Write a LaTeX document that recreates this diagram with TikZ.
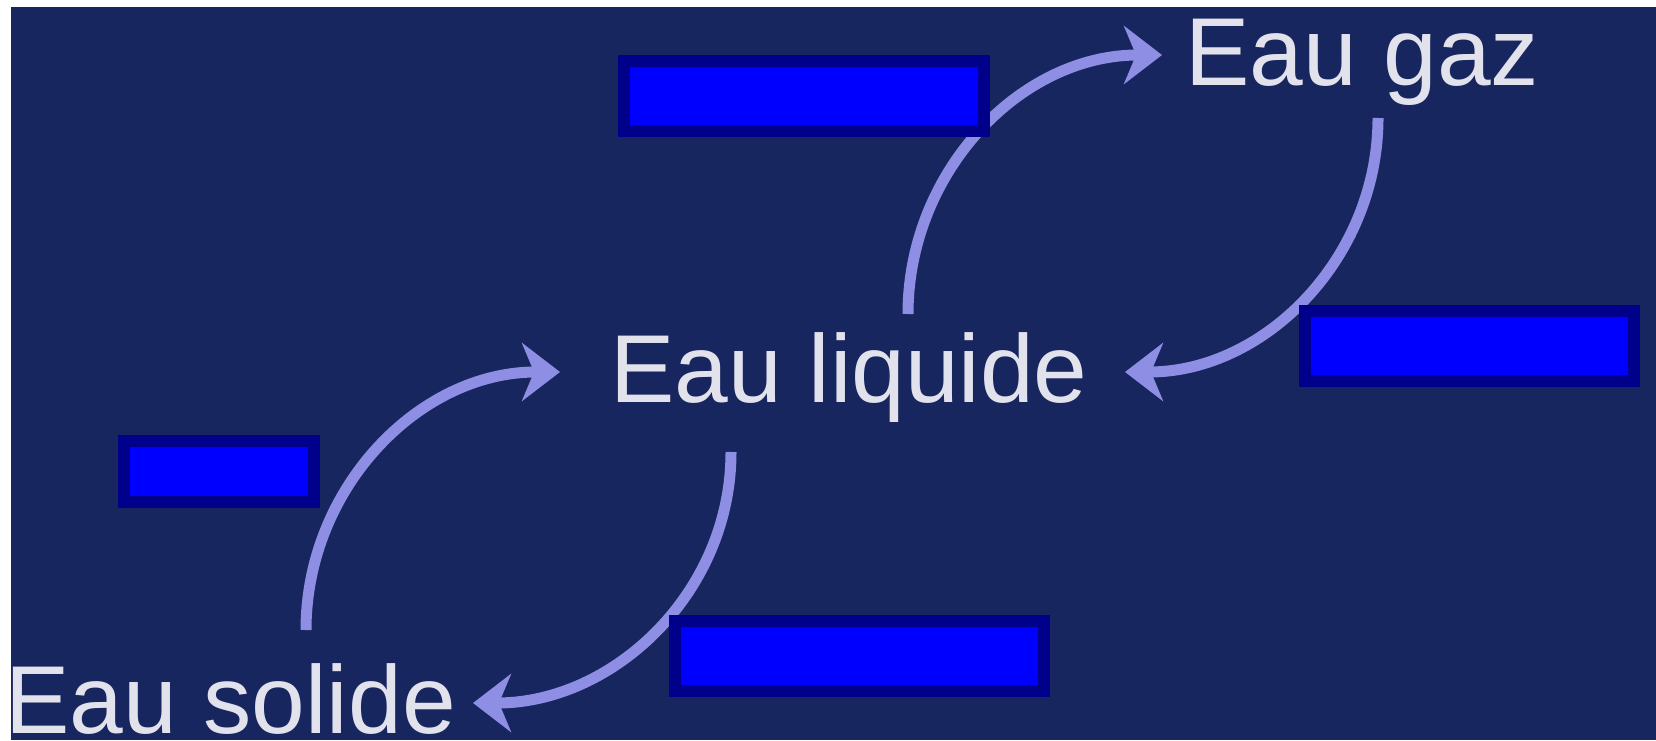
\documentclass[tikz,border=0pt]{standalone}
\usepackage{fontspec}
\setmainfont{Liberation Sans}
\usetikzlibrary{arrows.meta,calc}
\definecolor{panel}{HTML}{18265F}
\definecolor{boxedge}{HTML}{00008A}
\definecolor{boxfill}{HTML}{0000FF}
\definecolor{flow}{HTML}{8E8EE4}
\definecolor{label}{HTML}{E2E2EC}
\tikzset{
  state/.style={anchor=base west, inner sep=0pt, text=label,
                font=\fontsize{96.5}{110}\selectfont},
  blank/.style={rectangle, draw=boxedge, fill=boxfill, line width=12pt,
                inner sep=0pt},
  fl/.style={-{Stealth[length=38pt,width=58pt,inset=12pt]}, draw=flow,
             line width=11pt}
}

\begin{document}
\begin{tikzpicture}[x=1pt, y=1pt]
  \useasboundingbox (0,0) rectangle (1656,740);
  \fill[white] (0,0) rectangle (1656,740);
  \fill[panel] (11,0) rectangle (1656,733);
  \node[state] (gaz) at (1185,654) {Eau gaz};
  \node[state] (liq) at (610,338) {Eau liquide};
  \node[state] (sol) at (5,7) {Eau solide};
  \draw[fl] ($(liq.base west)+(298,88)$) to[out=90,in=180] ($(gaz.base west)+(-23,31)$);
  \draw[fl] ($(gaz.base west)+(193,-32)$) to[out=-90,in=0] ($(liq.base west)+(515,30)$);
  \draw[fl] ($(sol.base west)+(301,103)$) to[out=90,in=180] ($(liq.base west)+(-50,30)$);
  \draw[fl] ($(liq.base west)+(121,-50)$) to[out=-90,in=0] ($(sol.base west)+(468,30)$);
  \node[blank, minimum width=360pt, minimum height=70pt] (top) at (804,644) {};
  \node[blank, minimum width=329pt, minimum height=70pt] (right) at (1469.5,394) {};
  \node[blank, minimum width=190pt, minimum height=61pt] (left) at (219,268.5) {};
  \node[blank, minimum width=369pt, minimum height=70pt] (bottom) at (859.5,84) {};
\end{tikzpicture}
\end{document}
